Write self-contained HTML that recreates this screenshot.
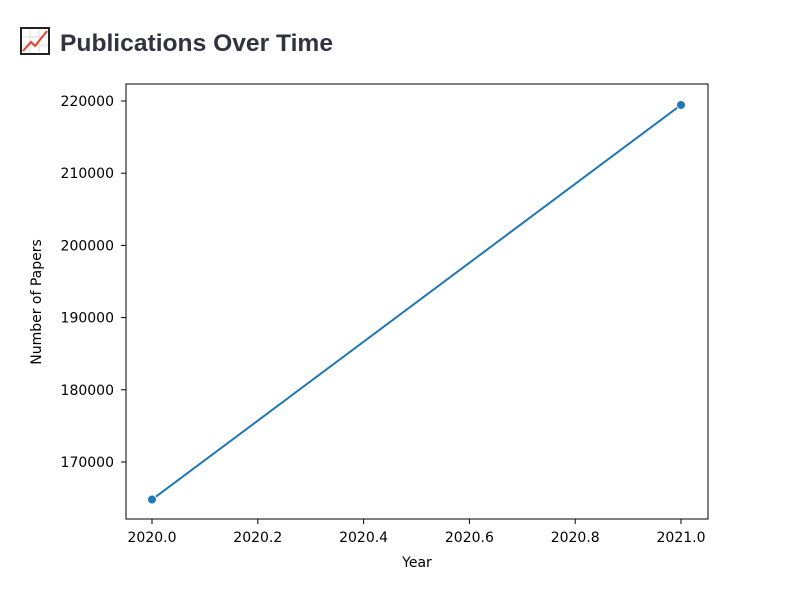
<!DOCTYPE html>
<html><head><meta charset="utf-8"><style>
body{margin:0;background:#fff;width:787px;height:590px;overflow:hidden;font-family:"DejaVu Sans","Liberation Sans",sans-serif}
</style></head><body>
<svg width="787" height="590" xmlns="http://www.w3.org/2000/svg">
<g>
<rect x="21" y="28" width="28" height="26" fill="#fff" stroke="#222" stroke-width="2"/>
<path d="M30 29V53M39 29V53M22 37H48M22 45H48" stroke="#ddd" stroke-width="1"/>
<path d="M23 51L31 42L35 46L47 31" stroke="#e8412c" stroke-width="2" fill="none"/>
</g>
<text x="60" y="51" font-size="24" font-weight="bold" fill="#31333f" font-family="Liberation Sans, sans-serif" textLength="273" lengthAdjust="spacingAndGlyphs">Publications Over Time</text>
<rect x="126" y="84" width="582" height="435" fill="none" stroke="#000" stroke-width="1"/>
<g id="yaxis"></g>
<g id="xaxis"></g>
<g id="series"></g>
<text x="417" y="567" font-size="14" text-anchor="middle">Year</text>
<text transform="translate(41,302) rotate(-90)" font-size="14" text-anchor="middle">Number of Papers</text>
</svg>
<script>
const years=[2020,2021];
const papers=[164800,219450];
const yTicks=[170000,180000,190000,200000,210000,220000];
const xTicks=[2020.0,2020.2,2020.4,2020.6,2020.8,2021.0];
const NS="http://www.w3.org/2000/svg";
function X(v){return 152+(v-2020)*529;}
function Y(v){return 462-(v-170000)*(361/50000);}
function mk(t,a,p){const e=document.createElementNS(NS,t);for(const k in a)e.setAttribute(k,a[k]);p.appendChild(e);return e;}
const ya=document.getElementById('yaxis'),xa=document.getElementById('xaxis'),sr=document.getElementById('series');
yTicks.forEach(v=>{const y=Y(v);
const l=mk('line',{x1:121,x2:126,y1:y,y2:y,stroke:'#000'},ya);


const t=mk('text',{x:114,y:y+5,'font-size':14,'text-anchor':'end'},ya);t.textContent=v;

});
xTicks.forEach(v=>{const x=X(v);
const l=mk('line',{x1:x,x2:x,y1:519,y2:524,stroke:'#000'},xa);


const t=mk('text',{x:x,y:542,'font-size':14,'text-anchor':'middle'},xa);t.textContent=v.toFixed(1);

});
const pl=mk('polyline',{points:years.map((y,i)=>X(y)+','+Y(papers[i])).join(' '),fill:'none',stroke:'#1f77b4','stroke-width':2},sr);


years.forEach((y,i)=>{const c=mk('circle',{cx:X(y),cy:Y(papers[i]),r:4.5,fill:'#1f77b4',stroke:'#fff','stroke-width':1},sr);

});
</script>
</body></html>
